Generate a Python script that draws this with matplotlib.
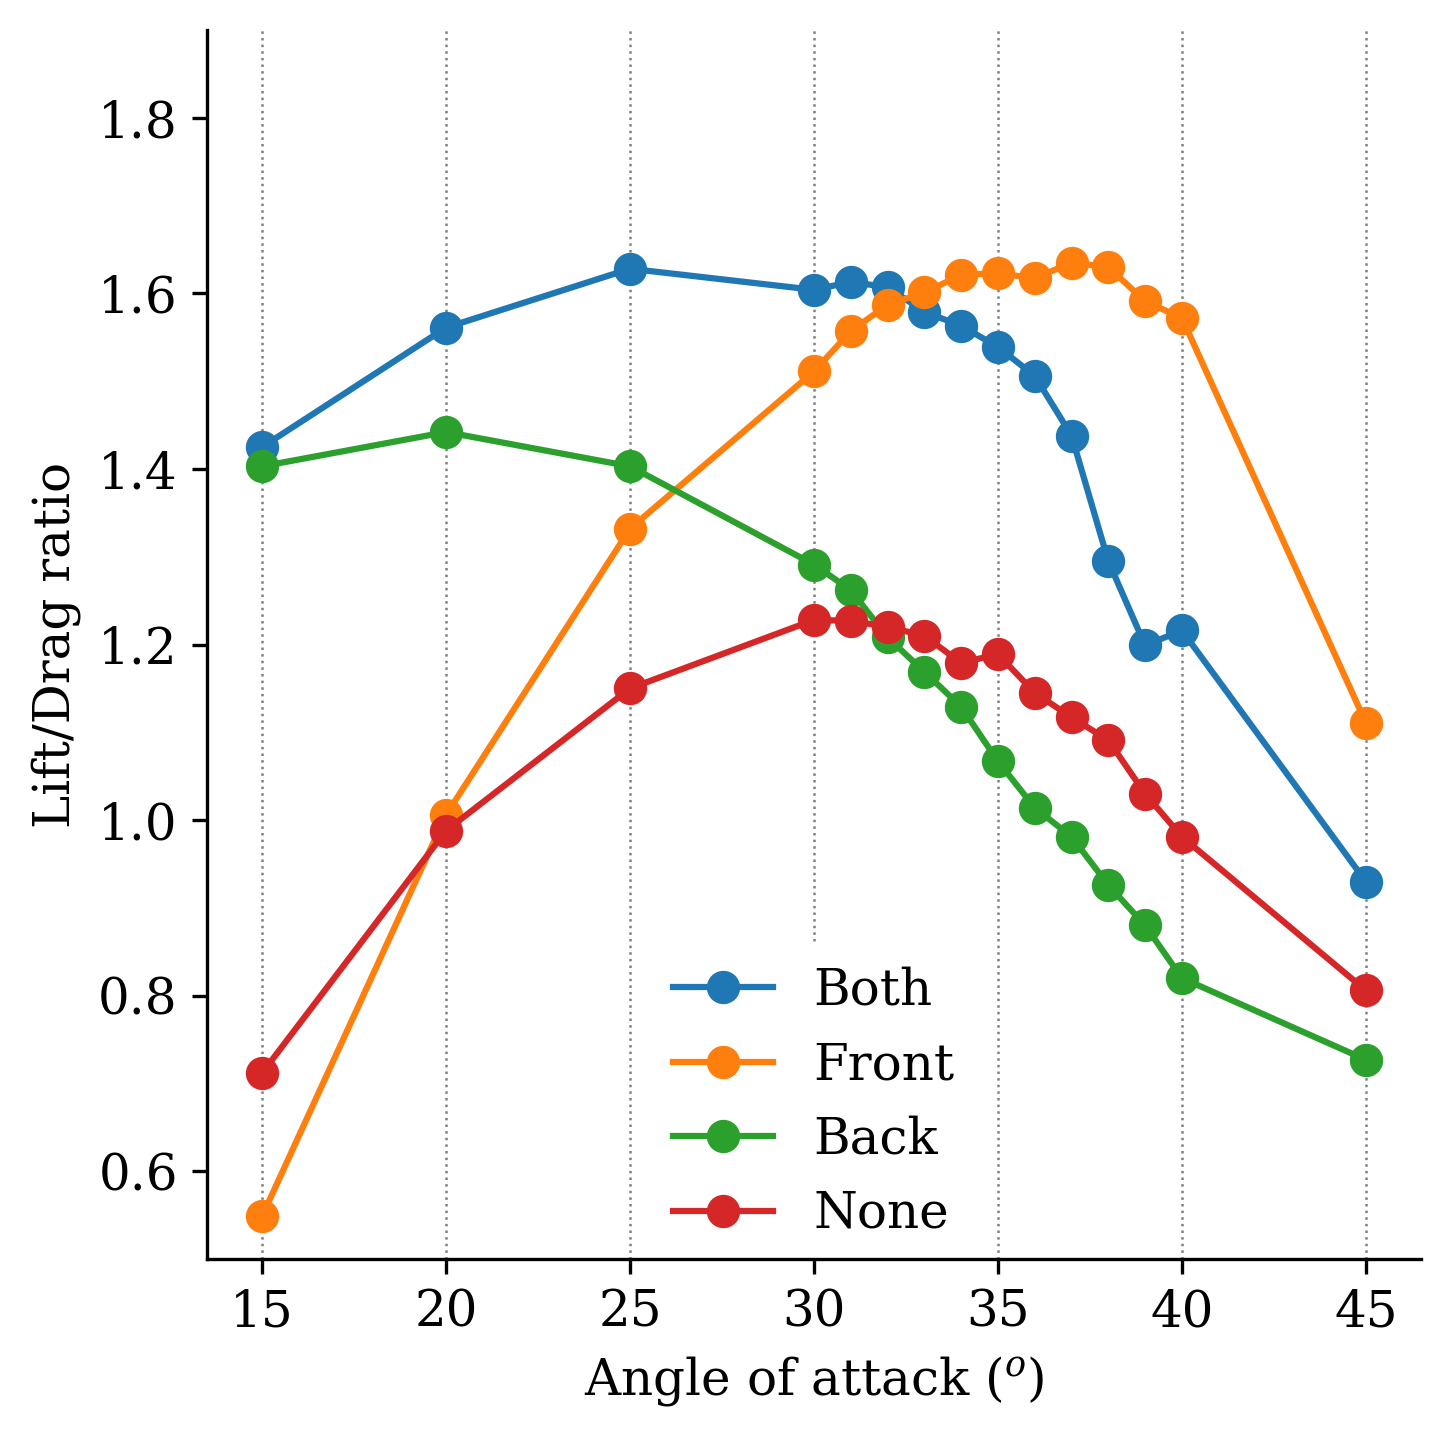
import matplotlib
matplotlib.use("Agg")
import matplotlib.pyplot as plt

angles = [15, 20, 25, 30, 31, 32, 33, 34, 35, 36, 37, 38, 39, 40, 45]
both = [1.425, 1.561, 1.628, 1.604, 1.613, 1.607, 1.579, 1.563, 1.539, 1.506, 1.438, 1.295, 1.199, 1.216, 0.930]
front = [0.549, 1.006, 1.332, 1.511, 1.557, 1.587, 1.601, 1.621, 1.623, 1.617, 1.635, 1.630, 1.591, 1.572, 1.111]
back = [1.403, 1.442, 1.403, 1.291, 1.262, 1.208, 1.169, 1.129, 1.067, 1.014, 0.981, 0.926, 0.880, 0.820, 0.727]
none = [0.712, 0.988, 1.150, 1.228, 1.227, 1.220, 1.210, 1.179, 1.189, 1.145, 1.117, 1.091, 1.030, 0.981, 0.806]
series_names = ["Both", "Front", "Back", "None"]
xticks = [15, 20, 25, 30, 35, 40, 45]

plt.rcParams['font.family'] = ['DejaVu Serif']
plt.rcParams['mathtext.fontset'] = 'dejavuserif'
plt.rcParams['font.size'] = 12

fig = plt.figure(figsize=(1450/300, 1439/300), dpi=300)
ax = fig.add_axes([207/1450, 1 - 1259/1439, (1421-207)/1450, (1259-30)/1439])

for vals, name in zip([both, front, back, none], series_names):
    ax.plot(angles, vals, marker='o', markersize=7, linewidth=1.5, label=name)

ax.set_xticks(xticks)
ax.set_ylim(0.5, 1.9)
ax.set_xlim(13.5, 46.5)
ax.set_yticks([0.6, 0.8, 1.0, 1.2, 1.4, 1.6, 1.8])
ax.xaxis.grid(True, linestyle=':', color='gray', linewidth=0.6)
ax.set_axisbelow(True)
ax.spines['top'].set_visible(False)
ax.spines['right'].set_visible(False)
ax.set_xlabel(r"Angle of attack ($^o$)")
ax.set_ylabel("Lift/Drag ratio")
leg = ax.legend(loc='lower center', framealpha=1, edgecolor='white', fancybox=False,
                borderaxespad=0)
leg.set_zorder(2.2)

fig.savefig("out.png", dpi=300)
